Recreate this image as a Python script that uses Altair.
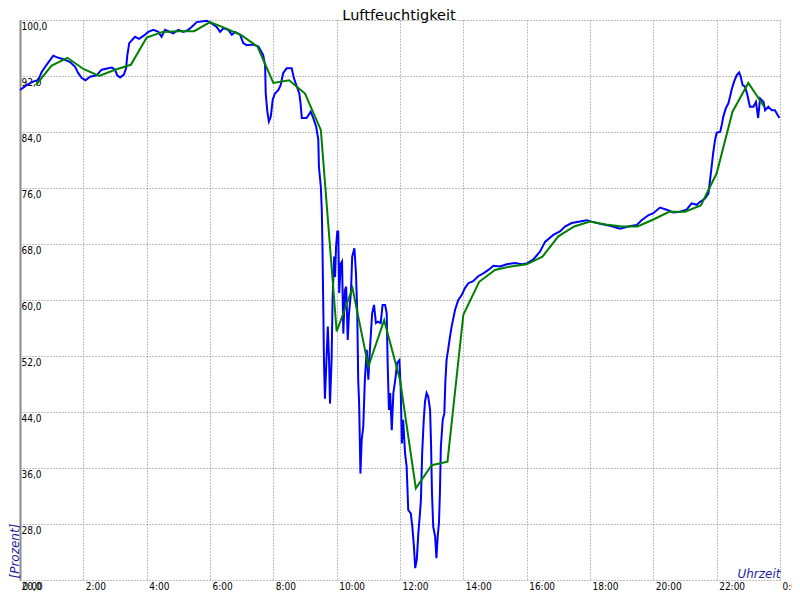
import altair as alt
import pandas as pd

# ---- data ----
blue_h = [0.00, 0.21, 0.41, 0.57, 0.69, 0.84, 1.05, 1.21, 1.37, 1.58, 1.74, 1.84, 1.95, 2.07, 2.21,
          2.42, 2.58, 2.79, 2.90, 3.00, 3.07, 3.16, 3.28, 3.35, 3.39, 3.45, 3.63, 3.76, 3.92, 4.05,
          4.21, 4.37, 4.47, 4.58, 4.84, 5.00, 5.16, 5.31, 5.42, 5.58, 5.90, 6.05, 6.21, 6.32, 6.42,
          6.58, 6.69, 6.79, 6.95, 7.05, 7.16, 7.37, 7.53, 7.68, 7.74, 7.76, 7.81, 7.86, 7.92, 7.98,
          8.05, 8.16, 8.23, 8.31, 8.42, 8.58, 8.65, 8.74, 8.82, 8.86, 8.90, 9.05, 9.18, 9.26, 9.35,
          9.42, 9.44, 9.50, 9.53, 9.55, 9.58, 9.60, 9.63, 9.69, 9.72, 9.76, 9.79, 9.84, 9.87, 9.92,
          9.95, 9.98, 10.02, 10.05, 10.08, 10.13, 10.17, 10.21, 10.26, 10.30, 10.35, 10.39, 10.45,
          10.49, 10.56, 10.61, 10.65, 10.68, 10.71, 10.75, 10.79, 10.84, 10.89, 10.95, 11.00, 11.05,
          11.12, 11.18, 11.24, 11.31, 11.39, 11.45, 11.53, 11.58, 11.61, 11.65, 11.69, 11.74, 11.79,
          11.85, 11.91, 11.98, 12.02, 12.06, 12.10, 12.16, 12.21, 12.26, 12.34, 12.39, 12.44, 12.48,
          12.53, 12.58, 12.63, 12.66, 12.70, 12.75, 12.79, 12.84, 12.89, 12.95, 12.98, 13.01, 13.05,
          13.11, 13.15, 13.19, 13.23, 13.26, 13.29, 13.35, 13.40, 13.43, 13.47, 13.52, 13.58, 13.63,
          13.74, 13.84, 13.95, 14.05, 14.16, 14.31, 14.47, 14.63, 14.79, 14.95, 15.16, 15.37, 15.63,
          15.84, 16.00, 16.21, 16.42, 16.58, 16.84, 17.05, 17.21, 17.42, 17.68, 17.90, 18.05, 18.32,
          18.63, 18.95, 19.21, 19.47, 19.63, 19.84, 20.00, 20.21, 20.42, 20.63, 20.84, 21.05, 21.21,
          21.37, 21.47, 21.63, 21.74, 21.79, 21.84, 21.89, 21.95, 22.00, 22.11, 22.16, 22.21, 22.29,
          22.37, 22.42, 22.47, 22.55, 22.63, 22.71, 22.76, 22.82, 22.89, 22.96, 23.05, 23.16, 23.24,
          23.31, 23.37, 23.48, 23.53, 23.63, 23.74, 23.84, 23.93, 23.98]
blue_v = [90.0, 90.7, 91.2, 91.4, 92.6, 93.6, 94.9, 94.6, 94.4, 94.0, 93.3, 92.4, 91.7, 91.4, 91.9,
          92.1, 92.9, 93.1, 93.2, 92.9, 92.1, 91.8, 92.2, 93.1, 95.0, 96.7, 97.6, 97.3, 97.8, 98.3,
          98.6, 98.3, 97.6, 98.6, 98.1, 98.6, 98.3, 98.6, 99.0, 99.7, 99.9, 99.5, 99.0, 98.3, 98.8,
          98.6, 97.9, 98.3, 97.9, 96.7, 96.4, 96.5, 96.2, 95.0, 93.5, 89.5, 86.9, 85.5, 86.2, 88.6,
          89.5, 90.0, 90.7, 92.4, 93.1, 93.1, 91.7, 90.5, 89.5, 88.1, 86.0, 86.0, 86.9, 86.0, 84.8,
          82.9, 79.0, 76.2, 72.9, 68.1, 58.1, 51.0, 45.9, 52.9, 56.2, 51.4, 45.2, 51.4, 60.0, 66.2,
          63.3, 67.6, 69.8, 69.8, 61.0, 65.2, 65.5, 55.2, 61.4, 61.9, 54.3, 58.1, 61.0,
          66.2, 67.4, 63.8, 58.1, 48.6, 45.2, 35.2, 40.0, 41.9, 48.6, 52.9, 48.6, 52.9,
          58.1, 59.3, 56.7, 56.9, 56.7, 59.3, 59.3, 58.1, 51.0, 44.3, 46.7, 41.4, 46.7,
          48.6, 51.0, 51.4, 47.6, 39.5, 42.9, 38.1, 36.2, 30.0, 29.5, 27.6, 24.8, 21.7,
          22.9, 26.7, 29.5, 31.4, 38.1, 42.9, 45.5, 46.7, 46.2, 44.3, 39.5, 32.4, 27.6,
          26.2, 23.1, 26.2, 28.1, 32.4, 39.0, 42.9, 43.8, 48.1, 51.4, 52.9, 54.8, 56.2,
          58.6, 60.0, 60.7, 61.7, 62.4, 62.7, 63.4, 63.8, 64.3, 64.9, 64.8, 65.1, 65.3,
          65.1, 65.2, 65.8, 66.9, 68.3, 69.3, 69.8, 70.5, 71.0, 71.2, 71.4, 71.2, 70.9,
          70.6, 70.2, 70.5, 70.7, 71.4, 72.1, 72.4, 73.2, 72.9, 72.5, 72.6, 72.9, 73.8,
          73.6, 74.0, 74.5, 75.2, 77.1, 79.0, 81.0, 82.9, 83.9, 84.0, 85.0, 86.2, 87.4,
          88.1, 89.0, 90.0, 91.2, 92.1, 92.5, 91.9, 90.7, 90.5, 89.5, 87.6, 87.6, 88.3,
          86.0, 88.8, 88.3, 87.1, 87.6, 87.1, 87.1, 86.4, 86.0]

green_h = [0.5, 1.0, 1.5, 2.0, 2.5, 3.0, 3.5, 4.0, 4.5, 5.0, 5.5, 6.0, 6.5, 7.0, 7.5, 8.0, 8.5,
           9.0, 9.5, 10.0, 10.5, 11.0, 11.5, 12.0, 12.5, 13.0, 13.5, 14.0, 14.5, 15.0, 15.5, 16.0,
           16.5, 17.0, 17.5, 18.0, 18.5, 19.0, 19.5, 20.0, 20.5, 21.0, 21.5, 22.0, 22.5, 23.0, 23.5]
green_v = [90.7, 93.5, 94.6, 93.0, 92.0, 92.9, 93.6, 97.5, 98.3, 98.4, 98.4, 99.7, 98.8, 97.8, 96.2,
           91.0, 91.4, 89.5, 84.3, 55.5, 61.7, 50.5, 57.1, 48.6, 33.1, 36.4, 36.9, 57.9, 62.6, 64.3,
           64.8, 65.1, 66.2, 69.1, 70.5, 71.2, 70.8, 70.5, 70.5, 71.5, 72.6, 72.6, 73.5, 78.1, 86.9,
           91.0, 87.6]

x_ticks = list(range(0, 25, 2))
y_ticks = list(range(20, 101, 8))
title_text = ["Luftfeuchtigkeit"]

blue = pd.DataFrame({"h": blue_h, "v": blue_v})
green = pd.DataFrame({"h": green_h, "v": green_v})
ttl = pd.DataFrame({"t": title_text})

FONT = "DejaVu Sans Condensed"
TFONT = "DejaVu Sans"
NAVY = "#1f1fa0"
GRID = "#808080"

xscale = alt.Scale(domain=[0, 24], nice=False, zero=False)
yscale = alt.Scale(domain=[20, 100], nice=False, zero=False)

xaxis = alt.Axis(values=x_ticks, grid=True, gridDash=[1, 2], gridColor=GRID, gridWidth=1,
                 ticks=False, tickSize=0, domain=False,
                 labelExpr="(datum.value % 24) + ':00'", labelAlign="left", labelBaseline="top",
                 labelPadding=1, labelOffset=2, labelFont=FONT, labelFontSize=10, labelColor="black",
                 labelOverlap=False, labelFlush=False, labelBound=False,
                 title="Uhrzeit", titleFont=TFONT, titleFontSize=12, titleFontStyle="italic",
                 titleFontWeight="normal", titleColor=NAVY, titleAlign="right",
                 titleBaseline="alphabetic", titleX=760, titleY=-3)
yaxis = alt.Axis(values=y_ticks, grid=True, gridDash=[1, 2], gridColor=GRID, gridWidth=1,
                 ticks=False, tickSize=0, domain=True, domainColor="#8c8c8c", domainWidth=2,
                 labelExpr="datum.value + ',0'", labelAlign="left", labelBaseline="top",
                 labelPadding=-1, labelOffset=1, labelFont=FONT, labelFontSize=10,
                 labelColor="black", labelOverlap=False, labelFlush=False, labelBound=False,
                 title="[Prozent]", titleFont=TFONT, titleFontSize=12, titleFontStyle="italic",
                 titleFontWeight="normal", titleColor=NAVY, titleAngle=270, titleAlign="left",
                 titleBaseline="alphabetic", titleX=-2, titleY=558)

blue_line = alt.Chart(blue).mark_line(color="#0000ff", strokeWidth=2).encode(
    x=alt.X("h:Q", scale=xscale, axis=xaxis),
    y=alt.Y("v:Q", scale=yscale, axis=yaxis),
)
green_line = alt.Chart(green).mark_line(color="#008000", strokeWidth=2).encode(
    x=alt.X("h:Q", scale=xscale),
    y=alt.Y("v:Q", scale=yscale),
)
title_mark = alt.Chart(ttl).mark_text(font=TFONT, fontSize=14.5, align="center",
                                       baseline="alphabetic", color="black").encode(
    x=alt.value(379), y=alt.value(-0.5), text="t:N"
)

chart = alt.layer(blue_line, green_line, title_mark).properties(
    width=760, height=560,
    autosize=alt.AutoSizeParams(type="none"),
    padding={"left": 12, "top": 12, "right": 12, "bottom": 12},
).configure_view(stroke=None)

chart.save("out.html", embed_options={"renderer": "svg", "actions": False})
